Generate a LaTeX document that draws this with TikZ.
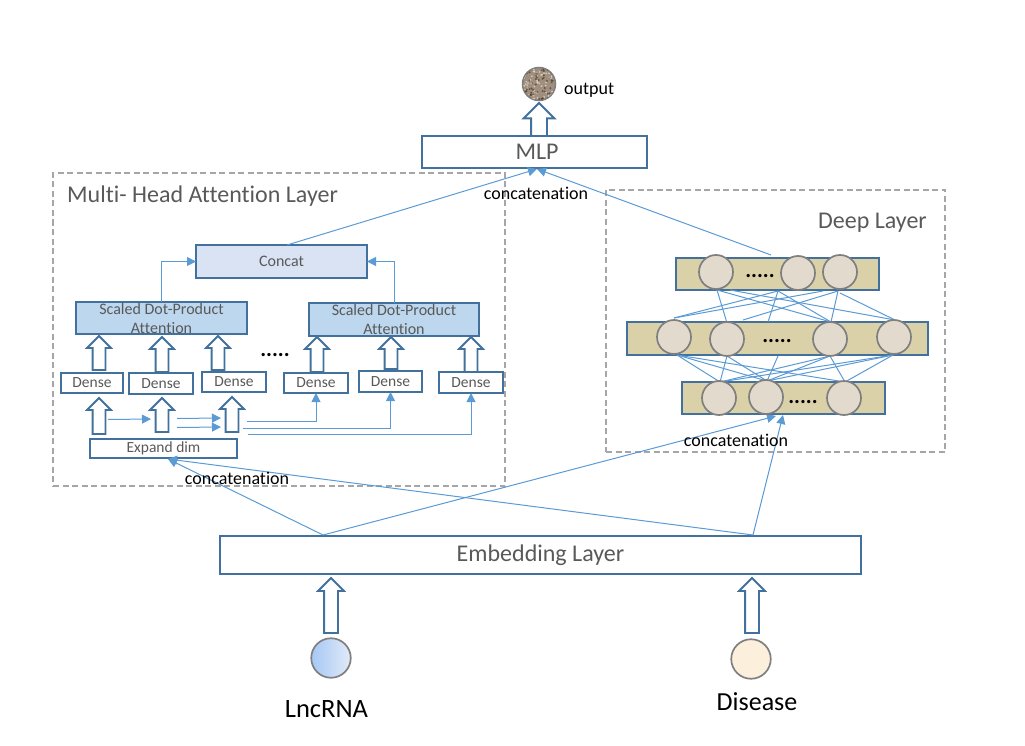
\documentclass[tikz,border=0pt]{standalone}
\usepackage{fontspec}
\setmainfont{Carlito}[Ligatures=NoCommon]
\usetikzlibrary{arrows.meta,shapes.arrows,shapes.geometric}
\definecolor{edge}{HTML}{41719C}
\definecolor{thin}{HTML}{5B9BD5}
\definecolor{txt}{HTML}{595959}
\definecolor{dash}{HTML}{A6A6A6}
\definecolor{ring}{HTML}{7F7F7F}
\definecolor{barfill}{HTML}{DBD1A9}
\definecolor{nodefill}{HTML}{E2DACD}
\definecolor{cfill}{HTML}{DAE3F3}
\definecolor{sfill}{HTML}{BDD7EE}
\newcommand{\fs}[1]{\fontsize{#1}{#1}\selectfont}
\tikzset{
  plainbox/.style={draw=edge,line width=1.9pt,fill=white,inner sep=0pt,outer sep=0pt,text=txt,anchor=north west},
  dashbox/.style={draw=dash,line width=1.5pt,dash pattern=on 6pt off 3.5pt,inner sep=0pt,outer sep=0pt,anchor=north west},
  lab/.style={inner sep=0pt,text=txt},
  blab/.style={inner sep=0pt,text=black},
  link/.style={draw=thin,line width=1pt},
  arlink/.style={link,-{Triangle[length=9pt,width=9pt]}},
  bigarrow/.style={single arrow,draw=edge,line width=1.8pt,fill=white,rotate=90,anchor=tip,outer sep=0pt,inner xsep=0pt,single arrow tip angle=90},
  neuron/.style={circle,draw=ring,line width=1.7pt,fill=nodefill,minimum size=34pt,inner sep=0pt},
}
% name, x, ytip, ybase, head width, shaft width
\newcommand{\blockarrow}[6]{%
  \pgfmathsetmacro{\hh}{#4-#3}\pgfmathsetmacro{\ex}{(#5-#6)/2}\pgfmathsetmacro{\ys}{#6/2}%
  \node[bigarrow,minimum height=\hh pt,minimum width=#5pt,inner ysep=\ys pt,single arrow head extend=\ex pt] (#1) at (#2,#3) {};}
% name, x0,y0,x1,y1, fill, size, text
\newcommand{\pbox}[8]{%
  \pgfmathsetmacro{\ww}{#4-#2}\pgfmathsetmacro{\hh}{#5-#3}%
  \node[plainbox,fill=#6,minimum width=\ww pt,minimum height=\hh pt,font=\fs{#7}] (#1) at (#2,#3) {#8};}
\begin{document}
\begin{tikzpicture}[x=1pt,y=-1pt]
\useasboundingbox (0,0) rectangle (1025,746);
% dashed panels
\node[dashbox,minimum width=452pt,minimum height=313pt] (attpanel) at (53,173) {};
\node[dashbox,minimum width=339pt,minimum height=262pt] (deeppanel) at (606,190) {};
% main boxes
\pbox{mlp}{422}{136}{647}{168}{white}{24}{\hspace*{5pt}MLP}
\pbox{embed}{220}{536}{861}{574}{white}{24}{Embedding Layer}
\pbox{concat}{196}{245}{367}{278}{cfill}{16}{Concat}
\node[plainbox,fill=sfill,minimum width=171pt,minimum height=32pt] (sdpa1) at (76,302) {};
\node[plainbox,fill=sfill,minimum width=170pt,minimum height=33pt] (sdpa2) at (309,303) {};
\node[lab,font=\fs{16},align=center] (sdpa1t) at (161.5,319) {Scaled Dot-Product\\[3pt]Attention};
\node[lab,font=\fs{16},align=center] (sdpa2t) at (394,320) {Scaled Dot-Product\\[3pt]Attention};
\pbox{d1}{61}{373}{123}{393}{white}{15.5}{Dense}
\pbox{d2}{129}{373}{193}{394}{white}{15.5}{Dense}
\pbox{d3}{202}{372}{266}{392}{white}{15.5}{Dense}
\pbox{d4}{284}{373}{348}{393}{white}{15.5}{Dense}
\pbox{d5}{359}{371}{422}{392}{white}{15.5}{Dense}
\pbox{d6}{439}{372}{503}{393}{white}{15.5}{Dense}
\pbox{expand}{90}{439}{237}{458}{white}{15.5}{Expand dim}
% block arrows
\blockarrow{a1}{99}{336}{370}{22}{11}
\blockarrow{a2}{162}{337}{372}{22}{11}
\blockarrow{a3}{218}{336}{370}{22}{11}
\blockarrow{a4}{317}{337}{372}{22}{11}
\blockarrow{a5}{391}{337}{369}{22}{11}
\blockarrow{a6}{471}{337}{372}{22}{11}
\blockarrow{b1}{99}{398}{434}{22}{11}
\blockarrow{b2}{162}{398}{432}{22}{11}
\blockarrow{b3}{232}{397}{432}{22}{11}
\blockarrow{top}{539}{103}{136}{29}{14}
\blockarrow{inl}{331}{578}{633}{24}{12}
\blockarrow{inr}{752}{578}{633}{24}{12}
% thin links in attention panel
\coordinate (s1) at (108,419.5);\coordinate (e1) at (151,419);
\coordinate (s2) at (177,418.5);\coordinate (e2) at (221,418);
\coordinate (s3) at (177,427.5);\coordinate (e3) at (221,427);
\draw[arlink] (s1) -- (e1);
\draw[arlink] (s2) -- (e2);
\draw[arlink] (s3) -- (e3);
\coordinate (s4) at (247,421);\coordinate (s5) at (243,428);\coordinate (s6) at (248,434);
\draw[arlink] (s4) -| (d4.south);
\draw[arlink] (s5) -| (d5.south);
\draw[arlink] (s6) -| (d6.south);
\draw[arlink] (sdpa1.north) |- (concat.west);
\draw[arlink] (sdpa2.north) |- (concat.east);
% long links
\coordinate (mlpin) at (537,169);
\coordinate (cout) at (287,245);
\coordinate (dout) at (771,255);
\coordinate (el) at (323,535);\coordinate (er) at (753,535);
\coordinate (exin) at (168,459);
\coordinate (dinl) at (776,416);\coordinate (dinr) at (783,415);
\draw[arlink] (cout) -- (mlpin);
\draw[arlink] (dout) -- (mlpin);
\draw[arlink] (el) -- (exin);
\draw[arlink] (er) -- (exin);
\draw[arlink] (el) -- (dinl);
\draw[arlink] (er) -- (dinr);
% deep layer bars
\node[plainbox,fill=barfill,minimum width=203pt,minimum height=32pt] (bart) at (676,258) {};
\node[plainbox,fill=barfill,minimum width=301pt,minimum height=33pt] (barm) at (627,322) {};
\node[plainbox,fill=barfill,minimum width=203pt,minimum height=32pt] (barb) at (682,382) {};
% mesh
\coordinate (t1) at (717,290);\coordinate (t1b) at (730,290);\coordinate (tm) at (778,291);
\coordinate (t2) at (823,291);\coordinate (t3) at (838,291);\coordinate (t3b) at (840,293);
\coordinate (mt1) at (674,318);\coordinate (mt2) at (727,323);\coordinate (mtx) at (743,320);
\coordinate (mty) at (768,322);\coordinate (mt3) at (831,322);\coordinate (mt4) at (895,320);
\coordinate (mb1) at (677,355);\coordinate (mb2) at (727,356);\coordinate (mbm) at (778,356);
\coordinate (mb3) at (830,356);\coordinate (mb4) at (893,355);
\coordinate (bt1) at (720,382);\coordinate (bt2) at (767,381);\coordinate (bt3) at (845,382);
\foreach \p/\q in {t1/mt2,t1/mt3,t1b/mt4,tm/mt1,tm/mty,tm/mt3,t2/mt1,t3/mtx,t3/mt3,t3b/mt4,
  mb1/bt1,mb1/bt2,mb1/bt3,mb2/bt1,mb2/bt2,mbm/bt2,mb3/bt1,mb3/bt2,mb3/bt3,mb4/bt1,mb4/bt2,mb4/bt3}
  \draw[link] (\p) -- (\q);
% neurons
\foreach \n/\x/\y in {nt1/716/272,nt2/798/273,nt3/840/272,nm1/674/337,nm2/727/339,nm3/830/339,nm4/894/337,nb1/719/398,nb2/766/397,nb3/844/398}
  \node[neuron] (\n) at (\x,\y) {};
\node[blab,font=\bfseries\fs{22},anchor=base] (dots1) at (760,277) {.....};
\node[blab,font=\bfseries\fs{22},anchor=base] (dots2) at (777,342) {.....};
\node[blab,font=\bfseries\fs{22},anchor=base] (dots3) at (803,403) {.....};
\node[blab,font=\bfseries\fs{22},anchor=base] (dots4) at (275,356) {.....};
% output, inputs
\definecolor{outfill}{HTML}{A08F7E}
\node[circle,draw=ring,line width=1.5pt,fill=outfill,minimum size=33pt,inner sep=0pt] (outc) at (539,84) {};
\begin{scope}
\clip (539,84) circle (16);
\pgfmathsetseed{7}
\foreach \i in {1,...,60}{
  \pgfmathsetmacro{\px}{523+32*rnd}\pgfmathsetmacro{\py}{68+32*rnd}
  \fill[black!70!brown,opacity=.55] (\px,\py) circle (1.1);
  \pgfmathsetmacro{\qx}{523+32*rnd}\pgfmathsetmacro{\qy}{68+32*rnd}
  \fill[white!85!brown,opacity=.6] (\qx,\qy) circle (1);
}
\end{scope}
\definecolor{lnca}{HTML}{A6C8F5}\definecolor{lncb}{HTML}{E2EAF7}
\node[circle,draw=ring,line width=1.7pt,left color=lnca,right color=lncb,minimum size=39.5pt,inner sep=0pt] (lnc) at (331,658) {};
\definecolor{disfill}{HTML}{FCF0DC}
\node[circle,draw=ring,line width=1.7pt,fill=disfill,minimum size=39.5pt,inner sep=0pt] (dis) at (751,659) {};
% labels
\node[lab,font=\fs{24},anchor=base west] (atttitle) at (67,203) {Multi- Head Attention Layer};
\node[lab,font=\fs{24},anchor=east] (deeptitle) at (927,223) {Deep Layer};
\node[blab,font=\fs{18}] (cc1) at (536,193.5) {concatenation};
\node[blab,font=\fs{18}] (cc2) at (736,440) {concatenation};
\node[blab,font=\fs{18}] (cc3) at (237,478) {concatenation};
\node[blab,font=\fs{18},anchor=west] (outl) at (564,90.5) {output};
\node[blab,font=\fs{26.5},anchor=base] (lncl) at (326.5,717) {LncRNA};
\node[blab,font=\fs{26},anchor=base] (disl) at (757,710) {Disease};
\end{tikzpicture}
\end{document}
